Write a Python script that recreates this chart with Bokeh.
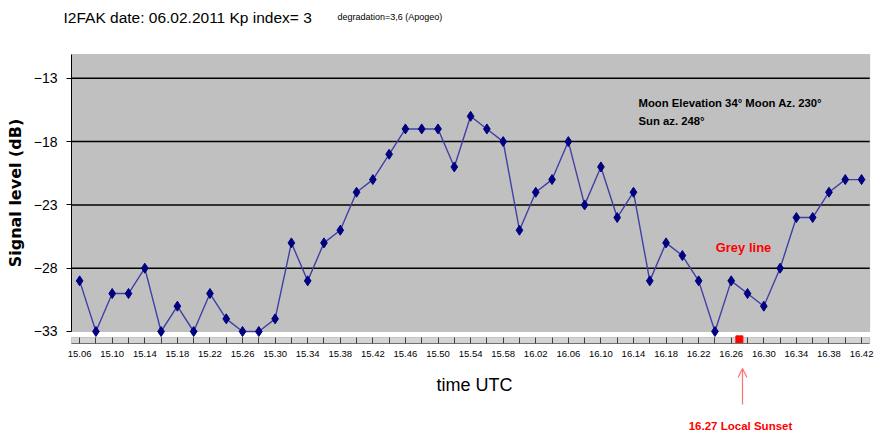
from bokeh.plotting import figure
from bokeh.models import (ColumnDataSource, FixedTicker, Range1d, BoxAnnotation,
                          Label, Arrow, OpenHead)
from bokeh.embed import file_html
from bokeh.resources import INLINE

times = ["15.06", "15.08", "15.10", "15.12", "15.14", "15.16", "15.18", "15.20",
         "15.22", "15.24", "15.26", "15.28", "15.30", "15.32", "15.34", "15.36",
         "15.38", "15.40", "15.42", "15.44", "15.46", "15.48", "15.50", "15.52",
         "15.54", "15.56", "15.58", "16.00", "16.02", "16.04", "16.06", "16.08",
         "16.10", "16.12", "16.14", "16.16", "16.18", "16.20", "16.22", "16.24",
         "16.26", "16.28", "16.30", "16.32", "16.34", "16.36", "16.38", "16.40",
         "16.42"]
signal_db = [-29, -33, -30, -30, -28, -33, -31, -33, -30, -32, -33, -33, -32,
             -26, -29, -26, -25, -22, -21, -19, -17, -17, -17, -20, -16, -17,
             -18, -25, -22, -21, -18, -23, -20, -24, -22, -29, -26, -27, -29,
             -33, -29, -30, -31, -28, -24, -24, -22, -21, -21]
y_ticks = [-13, -18, -23, -28, -33]
y_bottom, y_top = -33, -11.12
sunset_label = "16.27"
sunset_pos = times.index("16.26") + 0.5

FONT = "Liberation Sans"

idx = list(range(len(times)))
x_lo, x_hi = -0.5, len(times) - 0.5
src = ColumnDataSource(data=dict(idx=idx, level=signal_db, t=times))

# the frame covers the whole canvas; axes are placed with fixed_location
p = figure(width=874, height=434, output_backend="svg", toolbar_location=None,
           title=None,
           x_range=Range1d(-4.858, 48.795), y_range=Range1d(-41.136, -6.855),
           min_border=0)
p.background_fill_color = "white"
p.border_fill_color = "white"
p.outline_line_color = None
p.xgrid.visible = False
p.ygrid.visible = False

# grey plot area
p.add_layout(BoxAnnotation(left=x_lo, right=x_hi, bottom=y_bottom, top=y_top,
                           fill_color="#C0C0C0", fill_alpha=1,
                           line_color="#808080", line_width=1, level="image"))
# x-axis band
p.add_layout(BoxAnnotation(left=x_lo, right=x_hi, bottom=-33.948, top=-33.474,
                           fill_color="#D4D4D4", fill_alpha=1,
                           line_color="#707070", line_width=1, level="image"))

# horizontal grid lines
grid_y = y_ticks[:-1]
p.segment(x0=[x_lo] * len(grid_y), x1=[x_hi] * len(grid_y), y0=grid_y, y1=grid_y,
          line_color="black", line_width=1.5)

p.line("idx", "level", source=src, line_color="#4040A4", line_width=1.4)
p.scatter("idx", "level", source=src, marker="diamond", size=10,
          fill_color="#000080", line_color="#000080")

# x axis
xa = p.xaxis[0]
xa.fixed_location = -33.948
xa.bounds = (x_lo, x_hi)
xa.ticker = FixedTicker(ticks=idx)
xa.major_label_overrides = {i: (times[i] if i % 2 == 0 else "") for i in idx}
xa.major_tick_in = 6
xa.major_tick_out = 0
xa.major_tick_line_color = "#404040"
xa.axis_line_color = "#707070"
xa.minor_tick_line_color = None
xa.major_label_text_font = FONT
xa.major_label_text_font_size = "9.5px"
xa.major_label_text_color = "black"
xa.major_label_standoff = 8

# y axis
ya = p.yaxis[0]
ya.fixed_location = x_lo
ya.bounds = (y_bottom, y_top)
ya.ticker = FixedTicker(ticks=y_ticks)
ya.major_tick_out = 5
ya.major_tick_in = 0
ya.minor_tick_line_color = None
ya.axis_line_color = "black"
ya.major_tick_line_color = "black"
ya.major_label_text_font = FONT
ya.major_label_text_font_size = "14px"
ya.major_label_text_color = "black"
ya.major_label_standoff = 9
ya.axis_label = "Signal level (dB)"
ya.axis_label_text_font = "DejaVu Sans"
ya.axis_label_text_font_style = "bold"
ya.axis_label_text_font_size = "16px"
ya.axis_label_text_color = "black"
ya.axis_label_standoff = 6

# titles and notes (screen units: x from left, y from bottom of the canvas)
p.add_layout(Label(x=63, y=417, x_units="screen", y_units="screen",
                   text="I2FAK date: 06.02.2011  Kp index= 3", text_font=FONT,
                   text_font_size="15.5px", text_baseline="middle", text_color="black"))
p.add_layout(Label(x=337, y=418, x_units="screen", y_units="screen",
                   text="degradation=3,6  (Apogeo)", text_font=FONT,
                   text_font_size="9px", text_baseline="middle", text_color="black"))
p.add_layout(Label(x=474, y=50, x_units="screen", y_units="screen",
                   text="time UTC", text_font=FONT, text_font_size="18px",
                   text_align="center", text_baseline="middle", text_color="black"))
p.add_layout(Label(x=638, y=332, x_units="screen", y_units="screen",
                   text="Moon Elevation 34\u00b0 Moon Az. 230\u00b0", text_font=FONT,
                   text_font_style="bold", text_font_size="11.3px",
                   text_baseline="middle", text_color="black"))
p.add_layout(Label(x=638, y=314, x_units="screen", y_units="screen",
                   text="Sun az. 248\u00b0", text_font=FONT,
                   text_font_style="bold", text_font_size="11.3px",
                   text_baseline="middle", text_color="black"))
p.add_layout(Label(x=743, y=187, x_units="screen", y_units="screen",
                   text="Grey line", text_font=FONT, text_font_style="bold",
                   text_font_size="13px", text_align="center", text_baseline="middle",
                   text_color="#FF0000"))

# sunset marker, arrow and text
p.scatter([sunset_pos], [-33.62], marker="square", size=7, fill_color="#FF0000",
          line_color="#FF0000")
p.add_layout(Arrow(x_start=742, y_start=30, x_end=742, y_end=66,
                   start_units="screen", end_units="screen",
                   line_color="#FF7070", line_width=1.2,
                   end=OpenHead(size=9, line_color="#FF7070", line_width=1.2)))
p.add_layout(Label(x=740, y=9, x_units="screen", y_units="screen",
                   text=sunset_label + " Local Sunset", text_font=FONT,
                   text_font_style="bold", text_font_size="11.5px", text_align="center",
                   text_baseline="middle", text_color="#FF0000"))

open("out.html", "w").write(file_html(p, INLINE))
